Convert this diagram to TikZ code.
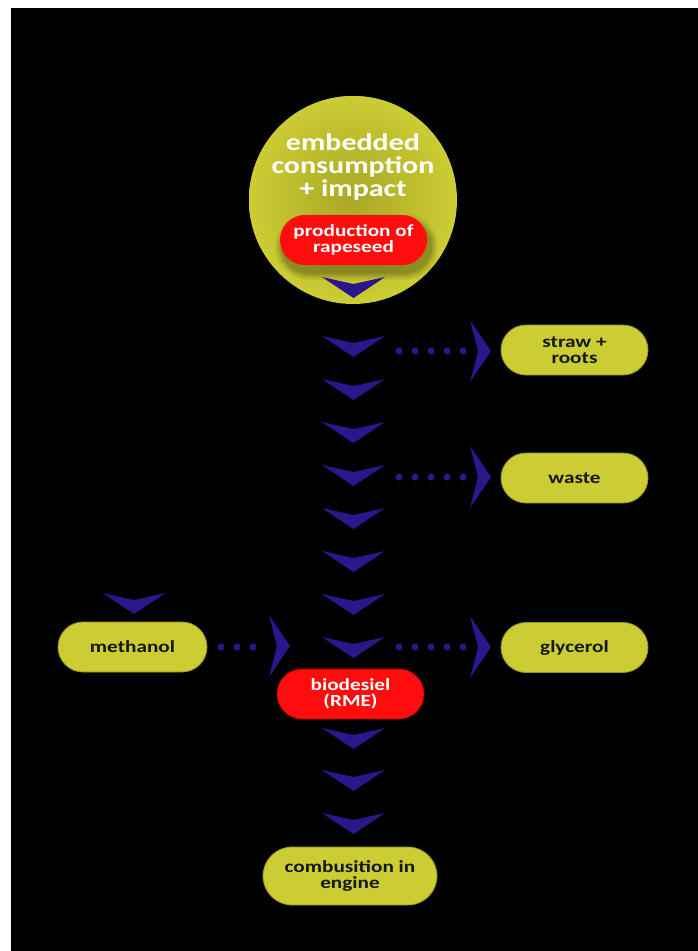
\documentclass[tikz,border=0pt]{standalone}
\usepackage{fontspec}
\setmainfont{Carlito}[FakeStretch=1.25]
\definecolor{olive}{RGB}{204,204,51}
\definecolor{olivedark}{RGB}{150,150,30}
\definecolor{olivein}{RGB}{168,168,38}
\definecolor{redpill}{RGB}{255,12,12}
\definecolor{chevblue}{RGB}{43,22,140}
\definecolor{darktext}{RGB}{22,22,22}
\tikzset{
  pill/.style={rectangle, rounded corners=25pt, minimum width=147pt, minimum height=50pt,
    inner sep=0pt, align=center, font=\bfseries\fontsize{17}{15.5}\selectfont},
  ypill/.style={pill, fill=olive, draw=olivedark, line width=0.8pt, text=darktext},
  rpill/.style={pill, fill=redpill, text=white},
  dotline/.style={chevblue, line width=7pt, line cap=round, dash pattern=on 0pt off 16pt},
  chevfill/.style={fill=chevblue},
  pics/chevdown/.style={code={\fill[chevfill] (-31.5,0) -- (0,7) -- (31.5,0) -- (0,21) -- cycle;}},
  pics/chevright/.style={code={\fill[chevfill] (0,-31) -- (21,0) -- (0,31) -- (8,0) -- cycle;}}
}
\begin{document}
\begin{tikzpicture}[x=1pt,y=-1pt]
\useasboundingbox (0,0) rectangle (698,951);
\fill[white] (0,0) rectangle (698,951);
\fill[black] (11,8) rectangle (698,951);
% top circle
\node[circle, fill=olive, minimum size=208pt, inner sep=0pt] (circ) at (353,200) {};
\begin{scope}
  \clip (353,200) circle (104);
  \shade[inner color=olivein, outer color=olive] (352,198) circle (104);
\end{scope}
\node[text=white, align=center, font=\bfseries\fontsize{24}{23}\selectfont] (circtext) at (353,167)
  {embedded\\consumption\\+ impact};
% shadow of red pill
\foreach \k/\o in {8/0.05,6/0.07,4/0.09,2/0.11}{
  \fill[black, opacity=\o, rounded corners=25pt+\k pt] (280-\k+3,215-\k+7) rectangle (427+\k+3,265+\k+7);
}
\node[rpill] (prod) at (353.5,240) {production of\\rapeseed};
% down chevrons of the main column
\foreach \y in {277,336,379,422,465,508,551,594,637,728,770,813}{
  \pic at (353.5,\y) {chevdown};
}
\pic at (134,593) {chevdown};
% side products
\node[ypill] (straw) at (574.5,350) {straw +\\roots};
\node[ypill] (waste) at (574.5,478) {waste};
\node[ypill] (glyc) at (574.5,647.5) {glycerol};
\node[ypill, minimum width=149pt] (meth) at (132.5,647) {methanol};
\node[rpill, draw=red!70!black, line width=0.6pt] (bio) at (350.5,694) {biodesiel\\(RME)};
\node[ypill, minimum width=174pt, minimum height=58pt, rounded corners=29pt] (comb) at (350,876) {combusition in\\engine};
% right chevrons
\pic at (470,351) {chevright};
\pic at (470,477) {chevright};
\pic at (470,647) {chevright};
\pic at (269,646) {chevright};
% dotted connectors
\coordinate (s1) at (399,351); \coordinate (e1) at (465,351);
\coordinate (s2) at (399,477); \coordinate (e2) at (465,477);
\coordinate (s3) at (399,647); \coordinate (e3) at (465,647);
\coordinate (s4) at (221,647); \coordinate (e4) at (254,647);
\draw[dotline] (s1) -- (e1);
\draw[dotline] (s2) -- (e2);
\draw[dotline] (s3) -- (e3);
\draw[dotline] (s4) -- (e4);
\end{tikzpicture}
\end{document}
